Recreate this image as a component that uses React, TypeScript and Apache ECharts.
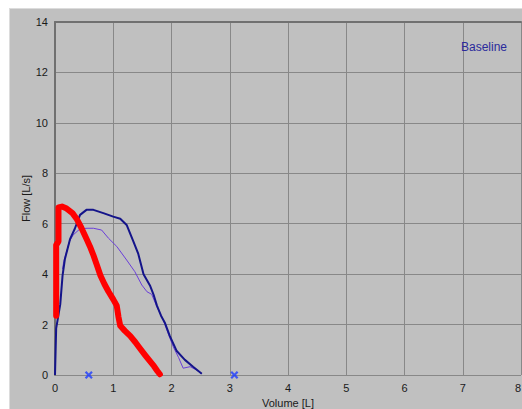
import { useEffect, useRef } from "react";
import * as echarts from "echarts";

// Volume ticks and Flow ticks
const volumeTicks = [0, 1, 2, 3, 4, 5, 6, 7, 8];
const flowTicks = [0, 2, 4, 6, 8, 10, 12, 14];

// Thick red curve (volume L, flow L/s)
const redVolume = [0.02, 0.02, 0.06, 0.06, 0.12, 0.2, 0.3, 0.37, 0.45, 0.54, 0.6, 0.66, 0.72, 0.78, 0.85, 0.92, 1.0, 1.06, 1.09, 1.12, 1.2, 1.29, 1.38, 1.46, 1.55, 1.63, 1.7, 1.76, 1.8];
const redFlow = [2.35, 5.15, 5.3, 6.65, 6.68, 6.6, 6.42, 6.2, 5.85, 5.4, 5.1, 4.75, 4.35, 3.95, 3.6, 3.3, 3.0, 2.75, 2.3, 1.95, 1.75, 1.55, 1.3, 1.05, 0.78, 0.55, 0.35, 0.15, 0.03];

// Dark blue curve
const navyVolume = [0, 0.02, 0.09, 0.13, 0.17, 0.26, 0.34, 0.43, 0.54, 0.66, 0.83, 1.0, 1.12, 1.23, 1.345, 1.43, 1.52, 1.63, 1.69, 1.75, 1.82, 1.89, 1.97, 2.09, 2.23, 2.37, 2.52];
const navyFlow = [0, 1.85, 2.8, 3.95, 4.6, 5.4, 5.8, 6.35, 6.55, 6.55, 6.42, 6.28, 6.2, 5.95, 5.3, 4.8, 4.0, 3.55, 3.2, 2.75, 2.35, 2.05, 1.55, 0.95, 0.6, 0.33, 0.05];

// Thin purple curve
const purpleVolume = [0.13, 0.15, 0.2, 0.25, 0.31, 0.43, 0.55, 0.66, 0.8, 0.92, 1.06, 1.23, 1.37, 1.49, 1.58, 1.66, 1.75, 1.86, 1.95, 2.03, 2.12, 2.2, 2.32, 2.43, 2.52];
const purpleFlow = [4.2, 4.5, 4.9, 5.3, 5.55, 5.8, 5.82, 5.82, 5.75, 5.42, 5.1, 4.56, 4.1, 3.57, 3.3, 3.2, 2.7, 2.18, 1.6, 1.12, 0.7, 0.27, 0.33, 0.2, 0.05];

// Blue cross markers on the volume axis
const markerVolume = [0.58, 3.08];
const markerFlow = [0, 0];

const zip = (xs: number[], ys: number[]) => xs.map((x, i) => [x, ys[i]]);

const crossPath =
  "path://M0,2 L2,0 L5,3 L8,0 L10,2 L7,5 L10,8 L8,10 L5,7 L2,10 L0,8 L3,5 Z";

export default function App() {
  const ref = useRef<HTMLDivElement>(null);
  useEffect(() => {
    if (!ref.current) return;
    const chart = echarts.init(ref.current, undefined, { renderer: "svg" });
    const font = "'Liberation Sans', Arial, sans-serif";
    chart.setOption({
      animation: false,
      backgroundColor: "#ffffff",
      textStyle: { fontFamily: font },
      graphic: [
        {
          type: "rect",
          z: -100,
          shape: { x: 9, y: 8, width: 513, height: 401 },
          style: { fill: "#c0c0c0" },
        },
        {
          type: "line",
          z: -99,
          shape: { x1: 9, y1: 8.5, x2: 522, y2: 8.5 },
          style: { stroke: "#dcdcdc", lineWidth: 1 },
        },
        {
          type: "line",
          z: -99,
          shape: { x1: 9.5, y1: 8, x2: 9.5, y2: 409 },
          style: { stroke: "#dcdcdc", lineWidth: 1 },
        },
      ],
      title: {
        text: "Baseline",
        right: 10,
        top: 36,
        textStyle: { fontSize: 12, fontWeight: "normal", color: "#2a2a9c", fontFamily: font },
      },
      grid: { left: 55, top: 22, right: 1, bottom: 34, containLabel: false, outerBoundsMode: "none" },
      xAxis: [
        {
          type: "value",
          min: volumeTicks[0],
          max: volumeTicks[volumeTicks.length - 1],
          interval: 1,
          name: "Volume [L]",
          nameLocation: "middle",
          nameGap: 22,
          nameTextStyle: { fontSize: 11, color: "#1a1a1a", fontFamily: font },
          axisLine: { show: false },
          axisTick: { show: false },
          axisLabel: { fontSize: 11, color: "#1a1a1a", margin: 7, fontFamily: font, alignMaxLabel: "right" },
          splitLine: { show: true, lineStyle: { color: "#888888", width: 1 } },
        },
        {
          type: "value",
          position: "top",
          min: 0,
          max: 8,
          axisLine: { show: true, onZero: false, lineStyle: { color: "#707070", width: 2 } },
          axisTick: { show: false },
          axisLabel: { show: false },
          splitLine: { show: false },
        },
      ],
      yAxis: {
        type: "value",
        min: flowTicks[0],
        max: flowTicks[flowTicks.length - 1],
        interval: 2,
        name: "Flow [L/s]",
        nameLocation: "middle",
        nameRotate: 90,
        nameGap: 24,
        nameMoveOverlap: false,
        nameTextStyle: { fontSize: 11, color: "#1a1a1a", fontFamily: font },
        axisLine: { show: true, onZero: false, lineStyle: { color: "#707070", width: 2 } },
        axisTick: { show: false },
        axisLabel: { fontSize: 11, color: "#1a1a1a", margin: 7, fontFamily: font },
        splitLine: { show: true, lineStyle: { color: "#888888", width: 1 } },
      },
      series: [
        {
          type: "line",
          data: zip(purpleVolume, purpleFlow),
          showSymbol: false,
          lineStyle: { color: "#6a3ed8", width: 1 },
          z: 3,
        },
        {
          type: "line",
          data: zip(navyVolume, navyFlow),
          showSymbol: false,
          lineStyle: { color: "#14148a", width: 2 },
          z: 4,
        },
        {
          type: "line",
          data: zip(redVolume, redFlow),
          showSymbol: false,
          lineStyle: { color: "#ff0000", width: 6, cap: "round", join: "round" },
          z: 5,
        },
        {
          type: "scatter",
          data: zip(markerVolume, markerFlow),
          symbol: crossPath,
          symbolSize: 8,
          itemStyle: { color: "#1e3cff" },
          z: 6,
        },
      ],
    });
    return () => chart.dispose();
  }, []);
  return (
    <div
      ref={ref}
      style={{ position: "fixed", left: 0, top: 0, width: 522, height: 409 }}
    />
  );
}
